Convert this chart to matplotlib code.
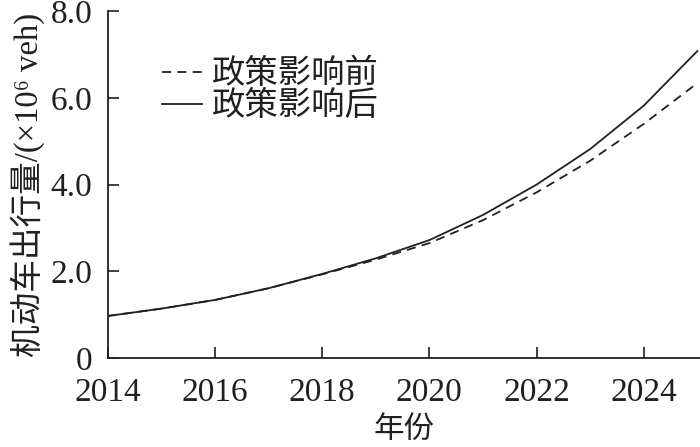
import matplotlib
matplotlib.use("Agg")
import matplotlib.pyplot as plt

# data
years = [2014, 2015, 2016, 2017, 2018, 2019, 2020, 2021, 2022, 2023, 2024, 2025]
before = [0.97, 1.14, 1.34, 1.61, 1.93, 2.27, 2.65, 3.18, 3.82, 4.55, 5.40, 6.34]
after = [0.97, 1.14, 1.34, 1.61, 1.94, 2.30, 2.72, 3.30, 4.00, 4.82, 5.82, 7.08]
xticks = [2014, 2016, 2018, 2020, 2022, 2024]
yticks = [0, 2, 4, 6, 8]
ytick_labels = ["0", "2.0", "4.0", "6.0", "8.0"]

fam = ["Liberation Serif", "Noto Sans CJK SC", "DejaVu Serif"]
plt.rcParams["font.family"] = fam

ink = "#231f20"
fig = plt.figure(figsize=(7, 4.47), dpi=100)
ax = fig.add_axes([0.154, 0.199, 0.846, 0.776])

ax.plot(years, before, color=ink, lw=1.3, linestyle=(0, (5, 3.5)), label="政策影响前")
ax.plot(years, after, color=ink, lw=1.3, label="政策影响后")

ax.set_xlim(2014, 2025.05)
ax.set_ylim(0, 8)
ax.set_xticks(xticks)
ax.set_yticks(yticks)
ax.set_yticklabels(ytick_labels)
ax.tick_params(direction="in", length=8, width=1.2, labelsize=24, colors=ink)
ax.tick_params(axis="x", pad=14)
ax.tick_params(axis="y", pad=11)
for s in ("top", "right"):
    ax.spines[s].set_visible(False)
for s in ("left", "bottom"):
    ax.spines[s].set_linewidth(1.3)
    ax.spines[s].set_color(ink)

ax.set_xlabel("年份", fontsize=22, labelpad=6, color=ink)
ax.set_ylabel("机动车出行量/(×10⁶ veh)", fontsize=23.5, labelpad=4, color=ink)

leg = ax.legend(loc="upper left", bbox_to_anchor=(0.064, 0.91), frameon=False,
                fontsize=24, handlelength=1.2, handletextpad=0.3,
                labelspacing=0.02, borderpad=0)
for t in leg.get_texts():
    t.set_color(ink)

fig.savefig("out.png", dpi=100)
